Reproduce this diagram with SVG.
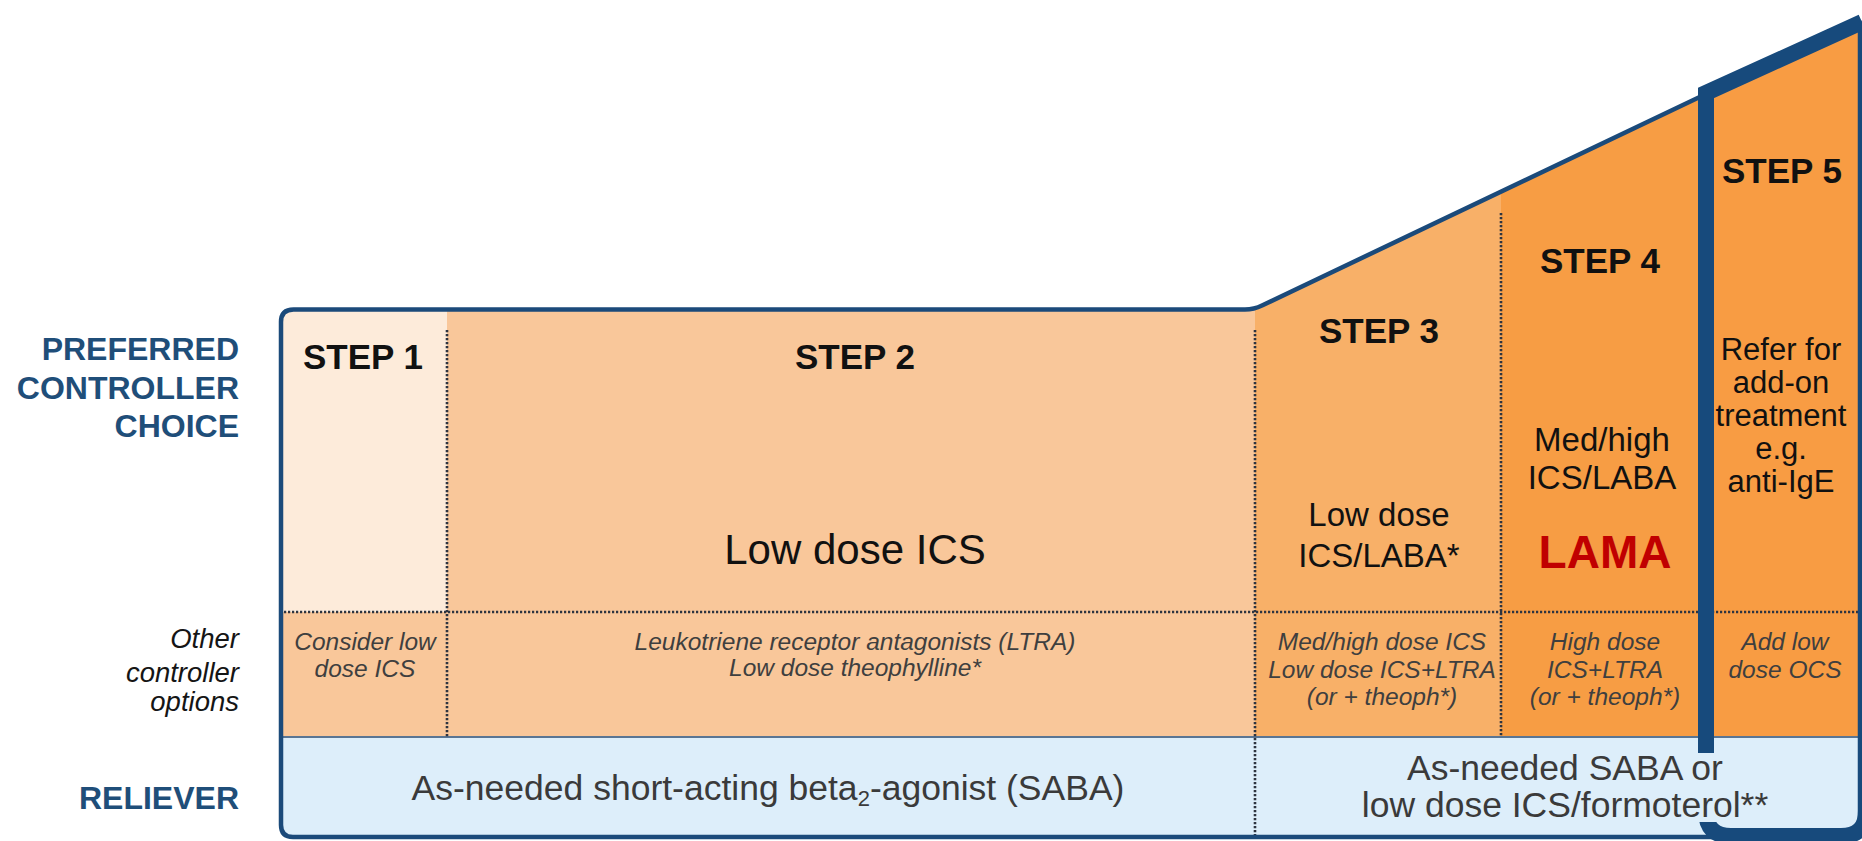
<svg xmlns="http://www.w3.org/2000/svg" width="1862" height="841" viewBox="0 0 1862 841">
<style>
text{font-family:"Liberation Sans",Arial,sans-serif}
.lbl{font-size:32px;font-weight:bold;fill:#1f4e79;text-anchor:end}
.oth{font-size:27.5px;font-style:italic;fill:#151515;text-anchor:end}
.step{font-size:35px;font-weight:bold;fill:#111;text-anchor:middle}
.pref{font-size:33px;fill:#111;text-anchor:middle}
.p5{font-size:31px;fill:#111;text-anchor:middle}
.it{font-size:24.5px;font-style:italic;fill:#3f3f3f;text-anchor:middle}
.rel{font-size:35.5px;fill:#3a3a3a;text-anchor:middle}
.dot{fill:none;stroke:#2e3440;stroke-width:2.6;stroke-dasharray:2.2 1.8}
</style>
<defs>
<clipPath id="boxclip">
<path d="M281,322 Q281,309.5 293.5,309.5 L1245,309.5 Q1254,309.5 1262,305.5 L1706,94 L1862,22 L1862,837 L293,837 Q281,837 281,825 Z"/>
</clipPath>
</defs>
<rect width="1862" height="841" fill="#ffffff"/>
<g id="fills" clip-path="url(#boxclip)">
<rect x="281" y="300" width="166" height="312" fill="#fdebda"/>
<rect x="281" y="612" width="166" height="125" fill="#f9c79a"/>
<rect x="447" y="300" width="808" height="437" fill="#f9c79a"/>
<rect x="1255" y="0" width="246" height="737" fill="#f8b068"/>
<rect x="1501" y="0" width="205" height="737" fill="#f79d44"/>
<rect x="1706" y="0" width="156" height="737" fill="#f89c43"/>
<rect x="281" y="737" width="1581" height="104" fill="#ddeefa"/>
</g>
<g id="connectors">
<line x1="281" y1="737" x2="1860" y2="737" stroke="#5a7593" stroke-width="2"/>
<line class="dot" x1="284" y1="612" x2="1858" y2="612"/>
<line class="dot" x1="447" y1="330" x2="447" y2="737"/>
<line class="dot" x1="1255" y1="330" x2="1255" y2="835"/>
<line class="dot" x1="1501" y1="213" x2="1501" y2="737"/>
<path d="M1862,22 L1706,94 L1262,305.5 Q1254,309.5 1245,309.5 L293.5,309.5 Q281,309.5 281,322 L281,825 Q281,837 293,837 L1848,837 Q1860,837 1860,825 L1860,24" fill="none" stroke="#1b4a7a" stroke-width="4.5" stroke-linejoin="round"/>
<path d="M1862,22 L1706,93 L1706,811 Q1706,836 1731,836 L1841,836 Q1866,836 1866,811 L1866,40" fill="none" stroke="#174a7c" stroke-width="16" stroke-linejoin="miter"/>
<rect x="1690" y="753" width="85" height="69" fill="#ddeefa"/>
</g>
<g id="label-preferred">
<text class="lbl" x="239" y="360">PREFERRED</text>
<text class="lbl" x="239" y="399">CONTROLLER</text>
<text class="lbl" x="239" y="437">CHOICE</text>
</g>
<g id="label-other">
<text class="oth" x="239" y="648">Other</text>
<text class="oth" x="239" y="682">controller</text>
<text class="oth" x="239" y="711">options</text>
</g>
<g id="label-reliever">
<text class="lbl" x="239" y="809">RELIEVER</text>
</g>
<g id="step1">
<text class="step" x="363" y="369">STEP 1</text>
<text class="it" x="365" y="650">Consider low</text>
<text class="it" x="365" y="677">dose ICS</text>
</g>
<g id="step2">
<text class="step" x="855" y="369">STEP 2</text>
<text x="855" y="564" style="font-size:42px;fill:#111;text-anchor:middle">Low dose ICS</text>
<text class="it" x="855" y="650">Leukotriene receptor antagonists (LTRA)</text>
<text class="it" x="855" y="676">Low dose theophylline*</text>
</g>
<g id="step3">
<text class="step" x="1379" y="343">STEP 3</text>
<text class="pref" x="1379" y="526">Low dose</text>
<text class="pref" x="1379" y="567">ICS/LABA*</text>
<text class="it" x="1382" y="650">Med/high dose ICS</text>
<text class="it" x="1382" y="678">Low dose ICS+LTRA</text>
<text class="it" x="1382" y="705">(or + theoph*)</text>
</g>
<g id="step4">
<text class="step" x="1600" y="273">STEP 4</text>
<text class="pref" x="1602" y="451">Med/high</text>
<text class="pref" x="1602" y="489">ICS/LABA</text>
<text x="1605" y="568" style="font-size:46px;font-weight:bold;fill:#c00000;text-anchor:middle">LAMA</text>
<text class="it" x="1605" y="650">High dose</text>
<text class="it" x="1605" y="678">ICS+LTRA</text>
<text class="it" x="1605" y="705">(or + theoph*)</text>
</g>
<g id="step5">
<text class="step" x="1782" y="183">STEP 5</text>
<text class="p5" x="1781" y="360">Refer for</text>
<text class="p5" x="1781" y="393">add-on</text>
<text class="p5" x="1781" y="426">treatment</text>
<text class="p5" x="1781" y="459">e.g.</text>
<text class="p5" x="1781" y="492">anti-IgE</text>
<text class="it" x="1785" y="650">Add low</text>
<text class="it" x="1785" y="678">dose OCS</text>
</g>
<g id="reliever-saba">
<text class="rel" x="768" y="800">As-needed short-acting beta<tspan dy="6" style="font-size:22px">2</tspan><tspan dy="-6">-agonist (SABA)</tspan></text>
</g>
<g id="reliever-formoterol">
<text class="rel" x="1565" y="780">As-needed SABA or</text>
<text class="rel" x="1565" y="817">low dose ICS/formoterol**</text>
</g>
</svg>
